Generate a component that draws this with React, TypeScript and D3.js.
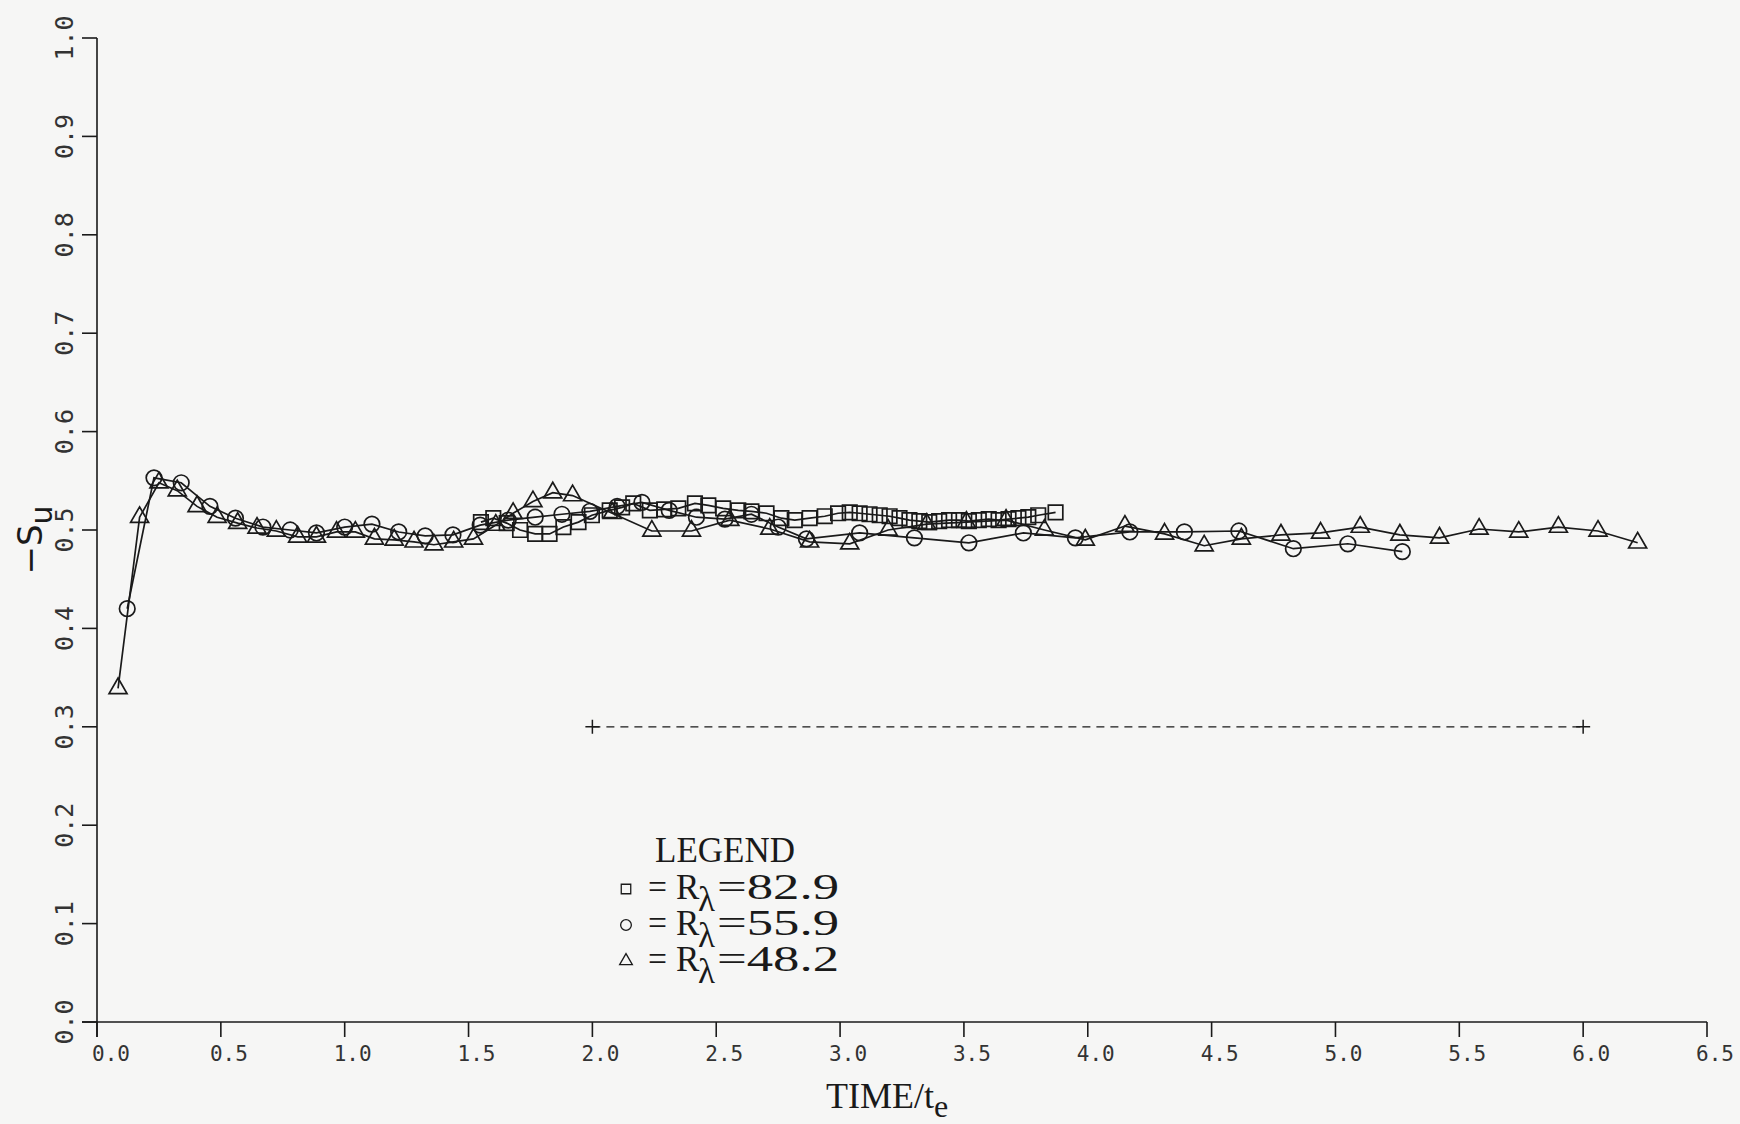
import React, { useEffect, useRef } from "react";
import * as d3 from "d3";

// R_lambda = 82.9 (squares)
const squareT = [1.55, 1.6, 1.654, 1.708, 1.769, 1.827, 1.883, 1.944, 1.998, 2.07, 2.12, 2.165, 2.232, 2.29, 2.347, 2.414, 2.468, 2.528, 2.589, 2.642, 2.703, 2.763, 2.817, 2.877, 2.938, 2.992, 3.039, 3.079, 3.119, 3.16, 3.2, 3.24, 3.28, 3.32, 3.36, 3.4, 3.44, 3.48, 3.52, 3.56, 3.6, 3.64, 3.68, 3.72, 3.76, 3.8, 3.87];
const squareV = [0.508, 0.512, 0.507, 0.5, 0.496, 0.496, 0.503, 0.508, 0.515, 0.52, 0.523, 0.527, 0.52, 0.521, 0.522, 0.527, 0.525, 0.522, 0.52, 0.519, 0.517, 0.512, 0.51, 0.512, 0.514, 0.517, 0.518, 0.517, 0.516, 0.515, 0.514, 0.512, 0.51, 0.509, 0.508, 0.509, 0.51, 0.51, 0.509, 0.51, 0.511, 0.51, 0.511, 0.512, 0.513, 0.515, 0.518];

// R_lambda = 55.9 (circles)
const circleT = [0.122, 0.23, 0.34, 0.456, 0.559, 0.67, 0.78, 0.886, 1.0, 1.11, 1.218, 1.325, 1.437, 1.547, 1.66, 1.769, 1.877, 1.99, 2.1, 2.2, 2.31, 2.42, 2.535, 2.642, 2.75, 2.864, 3.079, 3.3, 3.52, 3.74, 3.95, 4.17, 4.39, 4.61, 4.83, 5.05, 5.27];
const circleV = [0.42, 0.553, 0.548, 0.524, 0.512, 0.503, 0.5, 0.497, 0.503, 0.506, 0.498, 0.494, 0.495, 0.505, 0.51, 0.513, 0.516, 0.519, 0.524, 0.528, 0.52, 0.513, 0.511, 0.516, 0.503, 0.491, 0.497, 0.492, 0.487, 0.497, 0.492, 0.498, 0.498, 0.499, 0.481, 0.486, 0.478];

// R_lambda = 48.2 (triangles)
const triT = [0.085, 0.172, 0.25, 0.324, 0.404, 0.485, 0.568, 0.646, 0.724, 0.81, 0.886, 0.967, 1.043, 1.12, 1.2, 1.28, 1.36, 1.44, 1.52, 1.61, 1.68, 1.76, 1.84, 1.92, 2.08, 2.24, 2.4, 2.555, 2.716, 2.877, 3.039, 3.194, 3.35, 3.51, 3.67, 3.825, 3.99, 4.15, 4.31, 4.47, 4.62, 4.78, 4.94, 5.1, 5.26, 5.42, 5.58, 5.74, 5.9, 6.06, 6.22];
const triV = [0.339, 0.513, 0.548, 0.54, 0.524, 0.513, 0.507, 0.502, 0.499, 0.493, 0.493, 0.498, 0.498, 0.491, 0.49, 0.488, 0.485, 0.488, 0.491, 0.505, 0.517, 0.529, 0.538, 0.535, 0.517, 0.499, 0.499, 0.51, 0.501, 0.488, 0.486, 0.5, 0.506, 0.508, 0.51, 0.5, 0.49, 0.504, 0.496, 0.484, 0.491, 0.495, 0.497, 0.503, 0.495, 0.492, 0.501, 0.498, 0.503, 0.499, 0.487];

// reference line
const refT = [2.0, 6.0];
const refV = [0.3, 0.3];

const xTicks = d3.range(0, 6.51, 0.5);
const yTicks = d3.range(0, 1.01, 0.1);
const legendLabels = ["82.9", "55.9", "48.2"];

const App = () => {
  const svgRef = useRef(null);

  useEffect(() => {
    const svg = d3.select(svgRef.current);
    svg.selectAll("*").remove();

    const W = 1740;
    const H = 1124;
    const ink = "#1a1a1a";
    const mono = "'DejaVu Sans Mono', monospace";
    const serif = "'Liberation Serif', 'DejaVu Serif', serif";

    svg.append("rect").attr("width", W).attr("height", H).attr("fill", "#f6f6f5");

    const x = d3.scaleLinear().domain([0, 6.5]).range([97, 1707]);
    const y = d3.scaleLinear().domain([0, 1]).range([1022, 38]);

    // axes
    const ax = svg.append("g").attr("stroke", ink).attr("stroke-width", 1.6);
    ax.append("line").attr("x1", x(0)).attr("x2", x(0)).attr("y1", y(1)).attr("y2", y(0) + 15);
    ax.append("line").attr("x1", x(0) - 15).attr("x2", x(6.5)).attr("y1", y(0)).attr("y2", y(0));
    ax.selectAll(".xt")
      .data(xTicks)
      .join("line")
      .attr("x1", (d) => x(d))
      .attr("x2", (d) => x(d))
      .attr("y1", y(0))
      .attr("y2", y(0) + 15);
    ax.selectAll(".yt")
      .data(yTicks)
      .join("line")
      .attr("x1", x(0) - 15)
      .attr("x2", x(0))
      .attr("y1", (d) => y(d))
      .attr("y2", (d) => y(d));

    svg.append("g")
      .selectAll("text")
      .data(xTicks)
      .join("text")
      .attr("x", (d) => x(d) + (d === 0 ? 14 : 8))
      .attr("y", y(0) + 39)
      .attr("text-anchor", "middle")
      .attr("font-family", mono)
      .attr("font-size", 21)
      .attr("fill", "#333")
      .text((d) => d.toFixed(1));

    svg.append("g")
      .selectAll("text")
      .data(yTicks)
      .join("text")
      .attr("transform", (d) => `translate(64, ${y(d)}) rotate(-90)`)
      .attr("text-anchor", "middle")
      .attr("dominant-baseline", "central")
      .attr("font-family", mono)
      .attr("font-size", 25)
      .attr("fill", "#333")
      .text((d) => d.toFixed(1));

    // axis titles
    const xt = svg.append("text")
      .attr("x", 887)
      .attr("y", 1108)
      .attr("text-anchor", "middle")
      .attr("font-family", serif)
      .attr("font-size", 36)
      .attr("fill", ink);
    xt.append("tspan").text("TIME/t");
    xt.append("tspan").attr("dy", 9).attr("font-size", 32).text("e");

    const yt = svg.append("text")
      .attr("transform", "translate(42, 540) rotate(-90)")
      .attr("text-anchor", "middle")
      .attr("font-family", "'DejaVu Sans', sans-serif")
      .attr("font-size", 34)
      .attr("fill", ink);
    yt.append("tspan").text("\u2212S");
    yt.append("tspan").attr("dy", 10).attr("font-size", 30).text("u");

    // reference dashed line
    svg.append("line")
      .attr("x1", x(refT[0]))
      .attr("x2", x(refT[1]))
      .attr("y1", y(refV[0]))
      .attr("y2", y(refV[1]))
      .attr("stroke", ink)
      .attr("stroke-width", 1.3)
      .attr("stroke-dasharray", "8,6");
    svg.append("g")
      .selectAll("path")
      .data(refT.map((t, i) => [t, refV[i]]))
      .join("path")
      .attr("d", (d) => `M${x(d[0]) - 7},${y(d[1])}h14M${x(d[0])},${y(d[1]) - 7}v14`)
      .attr("stroke", ink)
      .attr("stroke-width", 1.5);

    // series
    const series = [
      { t: squareT, v: squareV, type: d3.symbolSquare, size: 210 },
      { t: circleT, v: circleV, type: d3.symbolCircle, size: 190 },
      { t: triT, v: triV, type: d3.symbolTriangle, size: 140 },
    ];
    const line = d3.line().x((d) => x(d[0])).y((d) => y(d[1]));

    series.forEach((s) => {
      const pts = s.t.map((t, i) => [t, s.v[i]]);
      svg.append("path")
        .attr("d", line(pts))
        .attr("fill", "none")
        .attr("stroke", ink)
        .attr("stroke-width", 1.7);
      svg.append("g")
        .selectAll("path")
        .data(pts)
        .join("path")
        .attr("d", d3.symbol().type(s.type).size(s.size)())
        .attr("transform", (d) => `translate(${x(d[0])}, ${y(d[1])})`)
        .attr("fill", "none")
        .attr("stroke", ink)
        .attr("stroke-width", 1.7);
    });

    // legend
    const lg = svg.append("g").attr("font-family", serif).attr("font-size", 35).attr("fill", ink);
    lg.append("text").attr("x", 655).attr("y", 862).text("LEGEND");
    series.forEach((s, i) => {
      const by = 899 + i * 36;
      lg.append("path")
        .attr("d", d3.symbol().type(s.type).size(i === 2 ? 70 : 90)())
        .attr("transform", `translate(626, ${by - 10})`)
        .attr("fill", "none")
        .attr("stroke", ink)
        .attr("stroke-width", 1.3);
      lg.append("text")
        .attr("x", 648)
        .attr("y", by)
        .attr("textLength", 19)
        .attr("lengthAdjust", "spacingAndGlyphs")
        .text("=");
      lg.append("text").attr("x", 676).attr("y", by).text("R");
      lg.append("text").attr("x", 698).attr("y", by + 12).text("\u03bb");
      lg.append("text")
        .attr("x", 717)
        .attr("y", by)
        .attr("font-size", 36)
        .attr("textLength", 122)
        .attr("lengthAdjust", "spacingAndGlyphs")
        .text("=" + legendLabels[i]);
    });
  }, []);

  return (
    <svg
      ref={svgRef}
      width={1740}
      height={1124}
      style={{ position: "absolute", left: 0, top: 0, display: "block" }}
    />
  );
};

export default App;
